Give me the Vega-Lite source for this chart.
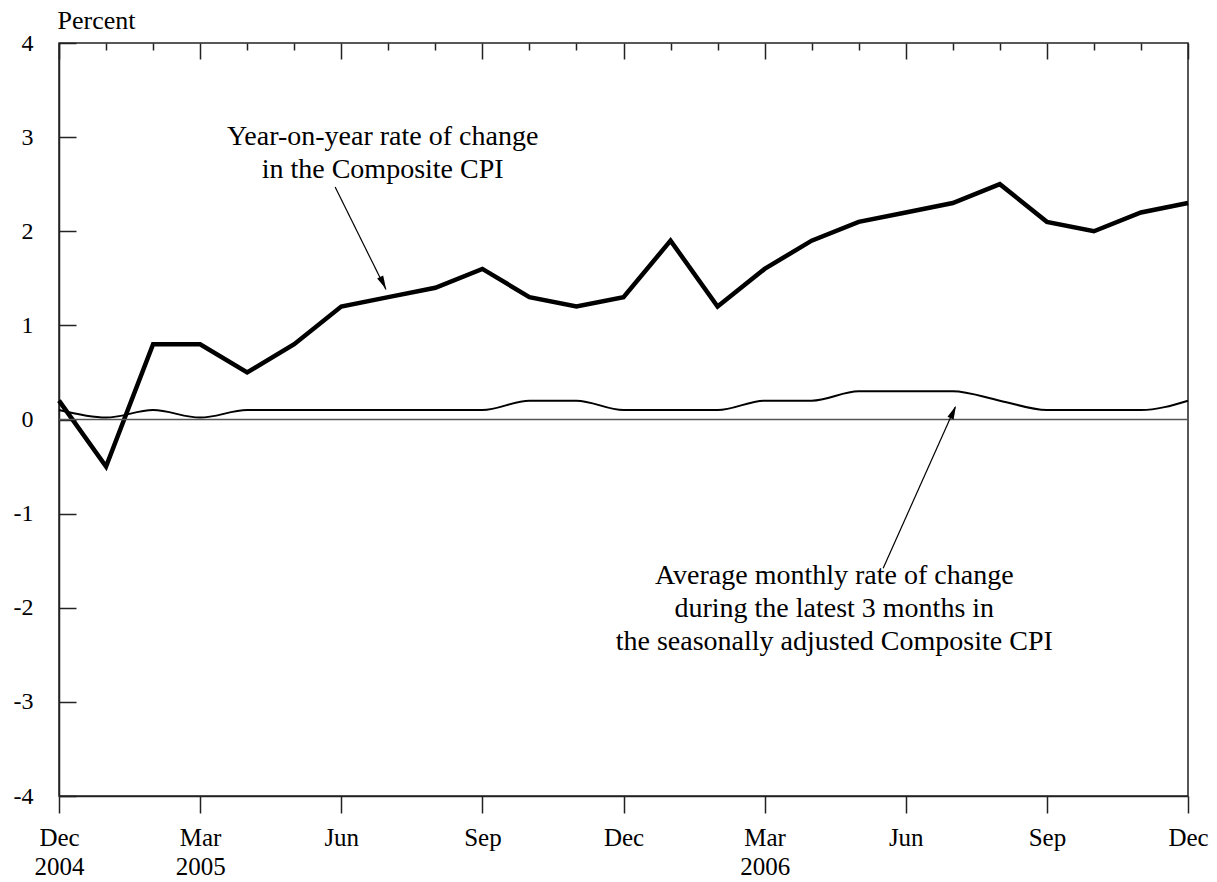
{
  "$schema": "https://vega.github.io/schema/vega-lite/v6.json",
  "width": 1129,
  "height": 753,
  "autosize": "none",
  "padding": {"left": 59, "top": 43, "right": 29, "bottom": 86},
  "background": "#ffffff",
  "config": {
    "view": {"stroke": "#222222", "strokeWidth": 1.5},
    "font": "Liberation Serif",
    "axis": {
      "labelFont": "Liberation Serif",
      "labelFontSize": 25,
      "labelColor": "#000000",
      "domainColor": "#222222",
      "domainWidth": 1.5,
      "tickColor": "#222222",
      "tickWidth": 1.5,
      "grid": false,
      "titleFont": "Liberation Serif",
      "titleFontWeight": "normal",
      "titleColor": "#000000"
    }
  },
  "datasets": {
    "cpi": [
      {"i": 0, "month": "2004-12", "yoy": 0.2, "avg3m": 0.1},
      {"i": 1, "month": "2005-01", "yoy": -0.5, "avg3m": 0.02},
      {"i": 2, "month": "2005-02", "yoy": 0.8, "avg3m": 0.1},
      {"i": 3, "month": "2005-03", "yoy": 0.8, "avg3m": 0.02},
      {"i": 4, "month": "2005-04", "yoy": 0.5, "avg3m": 0.1},
      {"i": 5, "month": "2005-05", "yoy": 0.8, "avg3m": 0.1},
      {"i": 6, "month": "2005-06", "yoy": 1.2, "avg3m": 0.1},
      {"i": 7, "month": "2005-07", "yoy": 1.3, "avg3m": 0.1},
      {"i": 8, "month": "2005-08", "yoy": 1.4, "avg3m": 0.1},
      {"i": 9, "month": "2005-09", "yoy": 1.6, "avg3m": 0.1},
      {"i": 10, "month": "2005-10", "yoy": 1.3, "avg3m": 0.2},
      {"i": 11, "month": "2005-11", "yoy": 1.2, "avg3m": 0.2},
      {"i": 12, "month": "2005-12", "yoy": 1.3, "avg3m": 0.1},
      {"i": 13, "month": "2006-01", "yoy": 1.9, "avg3m": 0.1},
      {"i": 14, "month": "2006-02", "yoy": 1.2, "avg3m": 0.1},
      {"i": 15, "month": "2006-03", "yoy": 1.6, "avg3m": 0.2},
      {"i": 16, "month": "2006-04", "yoy": 1.9, "avg3m": 0.2},
      {"i": 17, "month": "2006-05", "yoy": 2.1, "avg3m": 0.3},
      {"i": 18, "month": "2006-06", "yoy": 2.2, "avg3m": 0.3},
      {"i": 19, "month": "2006-07", "yoy": 2.3, "avg3m": 0.3},
      {"i": 20, "month": "2006-08", "yoy": 2.5, "avg3m": 0.2},
      {"i": 21, "month": "2006-09", "yoy": 2.1, "avg3m": 0.1},
      {"i": 22, "month": "2006-10", "yoy": 2.0, "avg3m": 0.1},
      {"i": 23, "month": "2006-11", "yoy": 2.2, "avg3m": 0.1},
      {"i": 24, "month": "2006-12", "yoy": 2.3, "avg3m": 0.2}
    ],
    "labels": [
      {"i": 6.88, "v": 3.0, "text": ["Year-on-year rate of change", "in the Composite CPI"]},
      {"i": 16.48, "v": -1.66, "text": ["Average monthly rate of change", "during the latest 3 months in", "the seasonally adjusted Composite CPI"]}
    ],
    "arrows": [
      {"i": 5.87, "v": 2.47, "i2": 6.95, "v2": 1.38},
      {"i": 17.52, "v": -1.58, "i2": 19.05, "v2": 0.13}
    ],
    "heads": [
      {"i": 6.89, "v": 1.45, "dir": 153.7},
      {"i": 19.01, "v": 0.08, "dir": 24}
    ]
  },
  "layer": [
    {
      "data": {"name": "cpi"},
      "mark": {"type": "line", "color": "#000000", "strokeWidth": 4.5, "strokeJoin": "miter"},
      "encoding": {
        "x": {
          "field": "i", "type": "quantitative",
          "scale": {"domain": [0, 24], "nice": false, "zero": false},
          "axis": {
            "title": null,
            "values": [0, 3, 6, 9, 12, 15, 18, 21, 24],
            "tickSize": 17,
            "labelPadding": 12,
            "labelLineHeight": 29,
            "labelBaseline": "top",
            "labelFlush": false,
            "labelOverlap": false,
            "labelExpr": "datum.value == 0 ? ['Dec', '2004'] : datum.value == 3 ? ['Mar', '2005'] : datum.value == 15 ? ['Mar', '2006'] : ['Dec','Jan','Feb','Mar','Apr','May','Jun','Jul','Aug','Sep','Oct','Nov'][datum.value % 12]"
          }
        },
        "y": {
          "field": "yoy", "type": "quantitative",
          "scale": {"domain": [-4, 4], "nice": false},
          "axis": {
            "title": "Percent",
            "titleAngle": 0,
            "titleAlign": "left",
            "titleBaseline": "alphabetic",
            "titleX": -2,
            "titleY": -15,
            "titleFontSize": 26,
            "values": [-4, -3, -2, -1, 0, 1, 2, 3, 4],
            "tickSize": -17,
            "labelPadding": 43,
            "labelFontSize": 24,
            "labelFlush": false,
            "labelOverlap": false,
            "labelExpr": "'' + datum.value"
          }
        }
      }
    },
    {
      "data": {"name": "cpi"},
      "mark": {"type": "line", "color": "#000000", "strokeWidth": 2, "interpolate": "monotone"},
      "encoding": {
        "x": {
          "field": "i", "type": "quantitative",
          "axis": {
            "title": null,
            "values": [1, 2, 4, 5, 7, 8, 10, 11, 13, 14, 16, 17, 19, 20, 22, 23],
            "tickSize": -7,
            "labels": false,
            "domain": false
          }
        },
        "y": {"field": "avg3m", "type": "quantitative", "axis": null}
      }
    },
    {
      "data": {"values": [{"v": 0}]},
      "mark": {"type": "rule", "color": "#555555", "strokeWidth": 1.5},
      "encoding": {
        "y": {"field": "v", "type": "quantitative", "axis": null},
        "x": {"datum": 0, "type": "quantitative", "axis": {
            "title": null,
            "values": [0, 3, 6, 9, 12, 15, 18, 21, 24],
            "tickSize": -16,
            "labels": false,
            "domain": false
          }},
        "x2": {"datum": 24}
      }
    },
    {
      "data": {"name": "arrows"},
      "mark": {"type": "rule", "color": "#000000", "strokeWidth": 1.2},
      "encoding": {
        "x": {"field": "i", "type": "quantitative", "axis": null},
        "x2": {"field": "i2"},
        "y": {"field": "v", "type": "quantitative", "axis": null},
        "y2": {"field": "v2"}
      }
    },
    {
      "data": {"name": "heads"},
      "mark": {"type": "point", "shape": "M-0.5,1L0,-1L0.5,1Z", "filled": true, "color": "#000000", "size": 180, "opacity": 1},
      "encoding": {
        "x": {"field": "i", "type": "quantitative", "axis": null},
        "y": {"field": "v", "type": "quantitative", "axis": null},
        "angle": {"field": "dir", "type": "quantitative", "scale": null}
      }
    },
    {
      "data": {"name": "labels"},
      "mark": {"type": "text", "font": "Liberation Serif", "fontSize": 28, "lineHeight": 33, "align": "center", "baseline": "middle", "color": "#000000"},
      "encoding": {
        "x": {"field": "i", "type": "quantitative", "axis": null},
        "y": {"field": "v", "type": "quantitative", "axis": null},
        "text": {"field": "text"}
      }
    }
  ],
  "resolve": {"axis": {"x": "independent", "y": "independent"}}
}
